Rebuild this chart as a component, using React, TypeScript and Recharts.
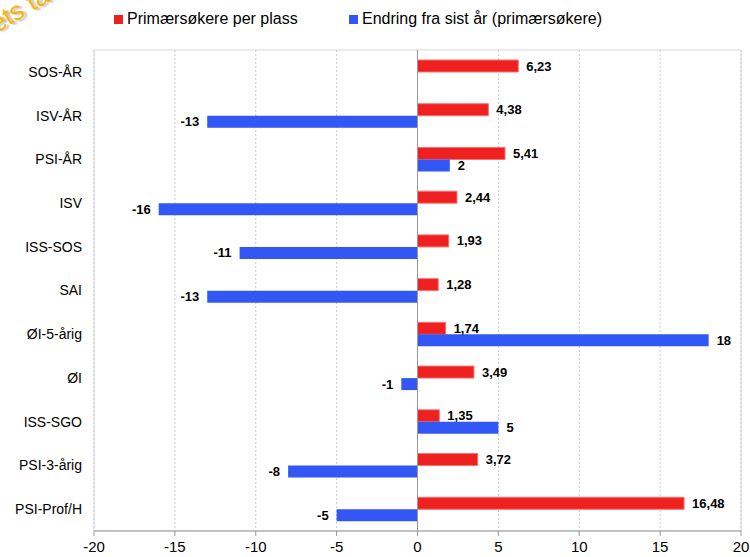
import {
  BarChart,
  Bar,
  XAxis,
  YAxis,
  CartesianGrid,
  ReferenceLine,
  ReferenceArea,
  LabelList,
} from "recharts";

const categories = [
  "SOS-ÅR",
  "ISV-ÅR",
  "PSI-ÅR",
  "ISV",
  "ISS-SOS",
  "SAI",
  "ØI-5-årig",
  "ØI",
  "ISS-SGO",
  "PSI-3-årig",
  "PSI-Prof/H",
];
const perPlass = [6.23, 4.38, 5.41, 2.44, 1.93, 1.28, 1.74, 3.49, 1.35, 3.72, 16.48];
const endring: (number | null)[] = [null, -13, 2, -16, -11, -13, 18, -1, 5, -8, -5];
const xTicks = [-20, -15, -10, -5, 0, 5, 10, 15, 20];

const RED = "#ee2020";
const BLUE = "#3357f5";
const FONT = "'Liberation Sans', Arial, sans-serif";

const data = categories.map((name, i) => ({
  name,
  perPlass: perPlass[i],
  endring: endring[i],
}));

const fmt = (v: number) => String(v).replace(".", ",");

// label goes right of positive bars, left of negative ones
function ValueLabel(props: any) {
  const { x, y, width, height, value } = props;
  if (value === null || value === undefined) return null;
  const left = Math.min(x, x + width);
  const right = Math.max(x, x + width);
  const neg = value < 0;
  return (
    <text
      x={neg ? left - 8 : right + 8}
      y={y + height / 2}
      dy="0.35em"
      textAnchor={neg ? "end" : "start"}
      fontFamily={FONT}
      fontSize={13}
      fontWeight="bold"
      fill="#000"
    >
      {fmt(value)}
    </text>
  );
}

function Legend() {
  const item = (color: string, label: string, left: number) => (
    <div
      style={{
        position: "absolute",
        left,
        top: 10,
        display: "flex",
        alignItems: "center",
        fontFamily: FONT,
        fontSize: 16,
        color: "#000",
      }}
    >
      <span
        style={{ width: 9, height: 9, background: color, marginRight: 4, marginTop: 1 }}
      />
      {label}
    </div>
  );
  return (
    <>
      {item(RED, "Primærsøkere per plass", 114)}
      {item(BLUE, "Endring fra sist år (primærsøkere)", 349)}
    </>
  );
}

export default function App() {
  return (
    <div
      style={{
        position: "relative",
        width: 750,
        height: 557,
        overflow: "hidden",
        background: "#fff",
      }}
    >
      <style>{`body{margin:0}`}</style>
      {/* watermark, mostly cut off at the top-left corner like in the original */}
      <div
        style={{
          position: "absolute",
          left: -38,
          top: 26,
          transform: "rotate(-31deg)",
          transformOrigin: "0 0",
          fontFamily: FONT,
          fontSize: 26,
          color: "#f7b500",
          textShadow: "2px 2px 2px #bbb",
          whiteSpace: "nowrap",
        }}
      >
        Årets tall
      </div>
      <Legend />
      <BarChart
        width={750}
        height={557}
        data={data}
        layout="vertical"
        margin={{ top: 50, right: 9, bottom: 0, left: 0 }}
        barGap={0}
        barSize={12}
        style={{ position: "absolute", left: 0, top: 0 }}
      >
        <CartesianGrid horizontal={false} stroke="#c8c8c8" strokeDasharray="2 2" />
        <ReferenceArea x1={-20} x2={20} fill="none" stroke="#d6d6d6" ifOverflow="visible" />
        <XAxis
          type="number"
          domain={[-20, 20]}
          ticks={xTicks}
          interval={0}
          height={26}
          stroke="#999"
          tickSize={5}
          tickMargin={5}
          tick={{ fontFamily: FONT, fontSize: 15, fill: "#000" }}
        />
        <YAxis
          type="category"
          dataKey="name"
          width={94}
          axisLine={false}
          tickLine={false}
          tickMargin={6}
          tick={{ fontFamily: FONT, fontSize: 14, fill: "#000" }}
        />
        <ReferenceLine x={0} stroke="#999" />
        <Bar dataKey="perPlass" fill={RED} stroke="#f87070" strokeWidth={1} isAnimationActive={false}>
          <LabelList dataKey="perPlass" content={ValueLabel} />
        </Bar>
        <Bar dataKey="endring" fill={BLUE} isAnimationActive={false}>
          <LabelList dataKey="endring" content={ValueLabel} />
        </Bar>
      </BarChart>
    </div>
  );
}
